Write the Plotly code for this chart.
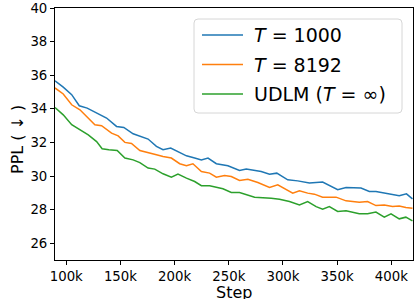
import plotly.graph_objects as go

# Data
steps_t1000 = [89.6e3, 97.2e3, 105e3, 112e3, 119.3e3, 128e3, 137.2e3, 146.4e3, 153.1e3, 161.7e3,
               167.9e3, 175.5e3, 183.2e3, 189.3e3, 196.4e3, 203.1e3, 210.9e3, 218.5e3, 224.7e3, 230.8e3,
               238.5e3, 249.2e3, 259.9e3, 266.1e3, 279.9e3, 287.6e3, 294.3e3, 304.4e3, 313.6e3, 324.4e3,
               336.6e3, 350.5e3, 358.2e3, 372e3, 379.7e3, 385.8e3, 398.1e3, 407.3e3, 414e3, 419.5e3]
ppl_t1000 = [35.67, 35.29, 34.84, 34.18, 34.04, 33.75, 33.45, 32.95, 32.89, 32.51,
             32.35, 32.2, 31.76, 31.56, 31.66, 31.46, 31.2, 31.07, 30.96, 31.07,
             30.73, 30.61, 30.33, 30.41, 30.27, 30.11, 30.17, 29.77, 29.71, 29.58,
             29.64, 29.18, 29.32, 29.28, 29.08, 29.08, 28.92, 28.82, 28.94, 28.64]

steps_t8192 = [89.6e3, 97.2e3, 105e3, 112.6e3, 126.4e3, 132.6e3, 141.8e3, 147.9e3, 154.1e3, 160.2e3,
               167.9e3, 174e3, 183.2e3, 189.3e3, 197e3, 204.7e3, 210.9e3, 216.9e3, 224.7e3, 232.3e3,
               238.5e3, 246.1e3, 252.3e3, 259.9e3, 267.6e3, 276.8e3, 287.6e3, 295.2e3, 302.9e3, 309e3,
               315.2e3, 322.8e3, 329e3, 336.6e3, 349e3, 358.2e3, 370.4e3, 378.1e3, 385.8e3, 393.5e3,
               401.1e3, 407.3e3, 413.4e3, 419.5e3]
ppl_t8192 = [35.24, 34.88, 34.24, 33.94, 33.05, 32.99, 32.55, 32.39, 32.0, 31.94,
             31.52, 31.4, 31.26, 31.16, 31.07, 30.73, 30.61, 30.73, 30.27, 30.17,
             29.93, 30.03, 29.97, 29.73, 29.81, 29.61, 29.32, 29.48, 29.18, 28.98,
             29.12, 28.98, 28.92, 28.74, 28.74, 28.52, 28.44, 28.48, 28.24, 28.28,
             28.18, 28.22, 28.12, 28.08]

steps_udlm = [89.6e3, 97.2e3, 105e3, 112.6e3, 120.3e3, 128e3, 133.1e3, 139.3e3, 147e3, 154.1e3,
              161.7e3, 167.9e3, 175.5e3, 181.7e3, 189.3e3, 197e3, 203.1e3, 210.9e3, 218.5e3, 224.7e3,
              232.3e3, 244.6e3, 252.3e3, 259.9e3, 273.8e3, 289.1e3, 296.8e3, 306e3, 315.2e3, 322.8e3,
              330.6e3, 336.6e3, 342.8e3, 350.5e3, 358.2e3, 370.4e3, 378.1e3, 385.8e3, 393.5e3, 399.7e3,
              407.3e3, 413.4e3, 419.5e3]
ppl_udlm = [34.08, 33.64, 33.05, 32.75, 32.45, 32.05, 31.62, 31.56, 31.52, 31.07,
            30.96, 30.8, 30.47, 30.41, 30.13, 29.93, 30.11, 29.87, 29.67, 29.42,
            29.42, 29.24, 29.02, 29.02, 28.74, 28.68, 28.62, 28.48, 28.28, 28.48,
            28.18, 28.03, 28.18, 27.89, 27.93, 27.75, 27.75, 27.85, 27.55, 27.75,
            27.45, 27.55, 27.33]

series_names = ["<i>T</i> = 1000", "<i>T</i> = 8192", "UDLM (<i>T</i> = ∞)"]
colors = ["#1f77b4", "#ff7f0e", "#2ca02c"]

x_ticks = [100e3, 150e3, 200e3, 250e3, 300e3, 350e3, 400e3]
x_tick_labels = ["100k", "150k", "200k", "250k", "300k", "350k", "400k"]
y_ticks = [26, 28, 30, 32, 34, 36, 38, 40]

font_family = "DejaVu Sans"

# plot area in pixels
W, H = 414, 299
L, R, T, B = 55, 413, 8, 260
PW, PH = R - L, B - T


def px(x):
    return (x - L) / PW


def py(y):
    return 1 - (y - T) / PH


fig = go.Figure()
for xs, ys, name, c in zip([steps_t1000, steps_t8192, steps_udlm],
                           [ppl_t1000, ppl_t8192, ppl_udlm], series_names, colors):
    fig.add_trace(go.Scatter(x=xs, y=ys, mode="lines", name=name,
                             line=dict(color=c, width=1.5), showlegend=False))

# custom legend (matplotlib-like rounded box)
bx0, bx1, by0, by1, r = 194, 402, 19, 113, 4
path = (f"M {px(bx0 + r)} {py(by0)} L {px(bx1 - r)} {py(by0)} "
        f"Q {px(bx1)} {py(by0)} {px(bx1)} {py(by0 + r)} "
        f"L {px(bx1)} {py(by1 - r)} Q {px(bx1)} {py(by1)} {px(bx1 - r)} {py(by1)} "
        f"L {px(bx0 + r)} {py(by1)} Q {px(bx0)} {py(by1)} {px(bx0)} {py(by1 - r)} "
        f"L {px(bx0)} {py(by0 + r)} Q {px(bx0)} {py(by0)} {px(bx0 + r)} {py(by0)} Z")
fig.add_shape(type="path", path=path, xref="paper", yref="paper",
              line=dict(color="#d6d6d6", width=1), fillcolor="rgba(255,255,255,0.8)", layer="above")
entry_y = [35, 64.5, 94]
for yy, name, c in zip(entry_y, series_names, colors):
    fig.add_shape(type="line", xref="paper", yref="paper", x0=px(202), x1=px(243),
                  y0=py(yy), y1=py(yy), line=dict(color=c, width=1.5), layer="above")
    fig.add_annotation(x=px(252), y=py(yy), xref="paper", yref="paper", text=name,
                       showarrow=False, xanchor="left", yanchor="middle",
                       font=dict(size=19, family=font_family, color="black"))

fig.add_annotation(x=px(234), y=py(292), xref="paper", yref="paper", text="Step",
                   showarrow=False, xanchor="center", yanchor="middle",
                   font=dict(size=16, family=font_family, color="black"))
fig.add_annotation(x=px(17), y=py(140), xref="paper", yref="paper", text="PPL ( ↓ )",
                   showarrow=False, xanchor="center", yanchor="middle", textangle=-90,
                   font=dict(size=16, family=font_family, color="black"))

fig.update_layout(
    width=W, height=H,
    margin=dict(l=L, r=W - R, t=T, b=H - B, autoexpand=False),
    plot_bgcolor="white", paper_bgcolor="white",
    font=dict(family=font_family, color="black", size=13.3),
    showlegend=False,
)
fig.update_xaxes(range=[89.6e3, 420e3], tickvals=x_ticks, ticktext=x_tick_labels,
                 showgrid=False, zeroline=False, showline=True, linecolor="black", linewidth=1,
                 mirror=True, ticks="outside", ticklen=4, tickcolor="black", automargin=False,
                 tickfont=dict(size=13.3, color="black"))
fig.update_yaxes(range=[25, 40], tickvals=y_ticks,
                 showgrid=False, zeroline=False, showline=True, linecolor="black", linewidth=1,
                 mirror=True, ticks="outside", ticklen=4, tickcolor="black", automargin=False,
                 tickfont=dict(size=13.3, color="black"))

fig.write_html("out.html", config={"displayModeBar": False},
               post_script="document.body.style.margin='0';document.body.style.overflow='hidden';")
